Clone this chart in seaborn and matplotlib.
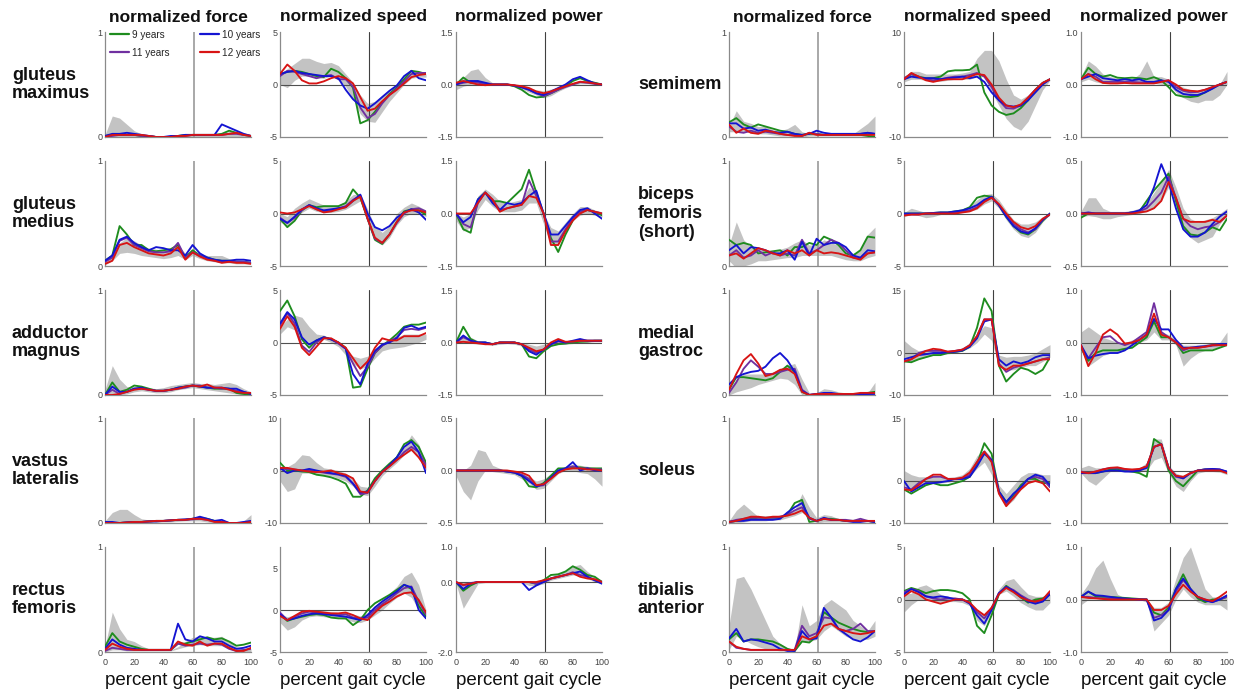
import matplotlib
matplotlib.use("Agg")
import matplotlib.pyplot as plt
from matplotlib.lines import Line2D
import numpy as np
import pandas as pd
import seaborn as sns

sns.set_theme(style="white")
plt.rcParams["font.family"] = ["Liberation Sans", "DejaVu Sans"]

# ---------------------------------------------------------------------------
# Gait-cycle sample points and age groups
# ---------------------------------------------------------------------------
PCT = list(range(0, 101, 5))
AGE_GROUPS = ["9 years", "10 years", "11 years", "12 years"]
DRAW_ORDER = ["9 years", "11 years", "10 years", "12 years"]
PALETTE = {"9 years": "#1e8c1e", "10 years": "#1414d2",
           "11 years": "#7030a0", "12 years": "#d81414"}
TOE_OFF = 61

COLUMN_TITLES = ["normalized force", "normalized speed", "normalized power"]
LEFT_MUSCLES = ["gluteus\nmaximus", "gluteus\nmedius", "adductor\nmagnus",
                "vastus\nlateralis", "rectus\nfemoris"]
RIGHT_MUSCLES = ["semimem", "biceps\nfemoris\n(short)", "medial\ngastroc",
                 "soleus", "tibialis\nanterior"]

# ---------------------------------------------------------------------------
# Group means per age (9/10/11/12 years) and adult reference band (lo/hi)
# ---------------------------------------------------------------------------
gmax_force = {
    "9 years":  [0.01,0.02,0.02,0.02,0.02,0.01,0.01,0.00,0.00,0.00,0.01,0.02,0.02,0.02,0.02,0.02,0.03,0.06,0.04,0.02,0.01],
    "10 years": [0.01,0.03,0.03,0.04,0.03,0.02,0.01,0.00,0.00,0.01,0.01,0.02,0.02,0.02,0.02,0.02,0.12,0.09,0.06,0.03,0.01],
    "11 years": [0.00,0.01,0.02,0.02,0.02,0.01,0.01,0.00,0.00,0.00,0.01,0.01,0.02,0.02,0.02,0.02,0.02,0.03,0.03,0.02,0.01],
    "12 years": [0.00,0.02,0.02,0.02,0.02,0.02,0.01,0.00,0.00,0.00,0.01,0.01,0.02,0.02,0.02,0.02,0.02,0.03,0.04,0.02,0.01],
    "lo": [0,0,0,0,0,0,0,0,0,0,0,0,0,0,0,0,0,0,0,0,0],
    "hi": [0.02,0.20,0.18,0.12,0.06,0.03,0.02,0.01,0.01,0.01,0.02,0.03,0.03,0.03,0.03,0.03,0.04,0.05,0.05,0.04,0.02],
}
gmax_speed = {
    "9 years":  [1.0,1.2,1.3,1.2,1.0,0.8,0.7,1.5,1.2,0.6,-0.3,-3.7,-3.4,-2.6,-1.7,-0.9,-0.3,0.5,1.3,1.2,1.0],
    "10 years": [1.0,1.2,1.3,1.1,1.0,0.9,0.8,0.8,0.6,-0.5,-1.4,-2.0,-2.3,-1.8,-1.2,-0.6,-0.1,0.8,1.3,0.6,0.4],
    "11 years": [0.8,1.3,1.2,1.0,0.8,0.6,0.8,0.9,0.5,0.5,-0.2,-2.2,-3.2,-2.8,-1.8,-1.0,-0.4,0.3,1.0,1.1,1.1],
    "12 years": [1.0,1.9,1.3,0.4,0.1,0.1,0.3,0.6,0.8,0.6,0.1,-1.2,-2.5,-2.3,-1.6,-1.0,-0.5,0.1,0.7,0.9,1.0],
    "lo": [0.0,-0.3,0.4,0.8,0.8,0.6,0.6,0.8,0.5,-0.2,-1.4,-2.8,-3.5,-3.6,-2.6,-1.6,-0.8,0.0,0.6,0.7,0.7],
    "hi": [1.0,1.5,2.0,2.5,2.5,2.2,2.0,2.1,1.8,1.0,0.2,-1.0,-1.8,-1.6,-1.0,-0.5,0.1,0.7,1.3,1.2,1.0],
}
gmax_power = {
    "9 years":  [0.0,0.2,0.05,0.08,0.0,0.0,0.0,0.0,-0.05,-0.15,-0.3,-0.37,-0.35,-0.25,-0.15,-0.05,0.1,0.18,0.1,0.05,0.0],
    "10 years": [0.0,0.08,0.1,0.1,0.05,0.0,0.0,0.0,-0.03,-0.08,-0.15,-0.25,-0.3,-0.2,-0.1,0.0,0.15,0.22,0.12,0.03,0.0],
    "11 years": [0.0,0.05,0.08,0.05,0.02,0.0,0.0,0.0,-0.03,-0.08,-0.15,-0.25,-0.33,-0.25,-0.15,-0.07,0.0,0.07,0.05,0.02,0.0],
    "12 years": [0.05,0.1,0.05,0.0,-0.02,0.0,0.0,0.0,-0.02,-0.05,-0.1,-0.2,-0.25,-0.2,-0.12,-0.05,0.02,0.08,0.06,0.03,0.0],
    "lo": [-0.15,-0.05,0.0,0.02,0.0,-0.02,-0.02,-0.02,-0.05,-0.12,-0.22,-0.3,-0.38,-0.32,-0.2,-0.1,-0.02,0.02,0.02,0.0,-0.02],
    "hi": [0.05,0.2,0.4,0.45,0.2,0.05,0.02,0.02,0.0,-0.05,-0.1,-0.15,-0.18,-0.13,-0.08,0.0,0.05,0.1,0.1,0.05,0.02],
}

gmed_force = {
    "9 years":  [0.05,0.10,0.38,0.30,0.20,0.20,0.15,0.14,0.15,0.16,0.20,0.08,0.15,0.10,0.08,0.06,0.05,0.05,0.04,0.04,0.03],
    "10 years": [0.05,0.10,0.25,0.28,0.22,0.18,0.15,0.18,0.17,0.15,0.15,0.10,0.20,0.12,0.08,0.06,0.05,0.05,0.06,0.06,0.05],
    "11 years": [0.04,0.08,0.24,0.27,0.20,0.17,0.14,0.13,0.13,0.14,0.22,0.08,0.13,0.10,0.07,0.05,0.04,0.04,0.04,0.04,0.03],
    "12 years": [0.02,0.05,0.20,0.22,0.18,0.15,0.12,0.11,0.10,0.12,0.18,0.06,0.13,0.09,0.06,0.05,0.03,0.04,0.03,0.03,0.02],
    "lo": [0.01,0.05,0.12,0.13,0.12,0.10,0.09,0.08,0.07,0.08,0.10,0.06,0.10,0.07,0.05,0.04,0.03,0.03,0.02,0.02,0.02],
    "hi": [0.05,0.10,0.22,0.27,0.24,0.20,0.17,0.16,0.15,0.17,0.20,0.12,0.14,0.12,0.10,0.10,0.10,0.07,0.06,0.05,0.04],
}
gmed_speed = {
    "9 years":  [-0.5,-1.3,-0.7,0.3,0.8,0.6,0.7,0.7,0.7,1.0,2.3,1.5,-0.5,-2.5,-2.9,-2.0,-0.8,0.2,0.4,0.3,-0.1],
    "10 years": [-0.5,-0.9,-0.3,0.4,0.8,0.5,0.3,0.4,0.5,0.6,1.2,1.8,0.0,-1.3,-1.6,-1.2,-0.4,0.1,0.4,0.1,-0.6],
    "11 years": [-0.4,-0.9,-0.4,0.3,0.8,0.4,0.2,0.3,0.5,0.7,1.3,1.7,-0.5,-2.4,-2.8,-2.0,-0.9,0.0,0.4,0.5,0.2],
    "12 years": [0.1,0.0,0.1,0.4,0.7,0.4,0.1,0.2,0.4,0.6,1.2,1.6,-0.5,-2.3,-2.8,-2.0,-0.8,0.1,0.3,0.3,0.1],
    "lo": [-0.8,-1.2,-0.6,0.1,0.5,0.2,0.1,0.1,0.2,0.4,0.8,1.2,-0.8,-2.6,-3.0,-2.3,-1.1,-0.3,0.0,0.0,-0.3],
    "hi": [0.0,-0.3,0.5,1.0,1.4,1.1,0.8,0.7,0.8,1.2,1.8,1.9,0.4,-1.2,-1.8,-1.2,0.0,0.6,1.0,0.7,0.3],
}
gmed_power = {
    "9 years":  [0.0,-0.45,-0.55,0.4,0.6,0.35,0.35,0.3,0.5,0.7,1.25,0.6,0.0,-0.7,-1.1,-0.6,-0.2,0.05,0.1,0.05,-0.05],
    "10 years": [0.0,-0.25,-0.1,0.4,0.6,0.3,0.1,0.3,0.25,0.3,0.5,0.65,0.0,-0.6,-0.6,-0.35,-0.1,0.1,0.15,0.0,-0.15],
    "11 years": [0.0,-0.3,-0.4,0.3,0.6,0.4,0.1,0.15,0.2,0.25,0.95,0.5,0.0,-0.8,-0.8,-0.45,-0.15,0.05,0.1,0.05,0.0],
    "12 years": [0.0,0.0,0.0,0.3,0.6,0.4,0.05,0.15,0.2,0.25,0.5,0.45,0.0,-0.9,-0.9,-0.5,-0.2,0.0,0.1,0.05,0.0],
    "lo": [-0.2,-0.5,-0.4,0.1,0.4,0.2,0.05,0.05,0.05,0.1,0.3,0.3,-0.3,-0.9,-0.9,-0.5,-0.2,-0.05,0.0,-0.05,-0.1],
    "hi": [0.0,-0.1,0.0,0.5,0.7,0.55,0.35,0.3,0.35,0.4,0.75,0.6,0.0,-0.4,-0.5,-0.25,0.0,0.2,0.2,0.1,0.05],
}

add_force = {
    "9 years":  [0.0,0.12,0.03,0.05,0.09,0.08,0.06,0.04,0.04,0.05,0.07,0.08,0.09,0.08,0.07,0.06,0.06,0.06,0.02,0.01,0.0],
    "10 years": [0.0,0.08,0.03,0.03,0.06,0.07,0.05,0.04,0.04,0.05,0.07,0.08,0.09,0.08,0.07,0.07,0.07,0.06,0.06,0.03,0.01],
    "11 years": [0.0,0.05,0.01,0.03,0.06,0.06,0.05,0.04,0.04,0.05,0.06,0.07,0.09,0.09,0.07,0.07,0.06,0.06,0.04,0.03,0.01],
    "12 years": [0.0,0.0,0.01,0.03,0.05,0.06,0.05,0.04,0.04,0.05,0.06,0.08,0.09,0.08,0.10,0.07,0.07,0.05,0.03,0.02,0.02],
    "lo": [0.0,0.0,0.0,0.01,0.03,0.04,0.03,0.02,0.02,0.03,0.05,0.06,0.07,0.06,0.05,0.04,0.03,0.02,0.01,0.0,0.0],
    "hi": [0.05,0.28,0.15,0.08,0.08,0.08,0.07,0.06,0.07,0.09,0.10,0.11,0.12,0.11,0.11,0.10,0.11,0.12,0.10,0.06,0.03],
}
add_speed = {
    "9 years":  [3.0,4.0,2.5,0.3,-0.5,0.2,0.5,0.3,0.0,-0.5,-4.3,-4.2,-2.5,-1.0,-0.3,0.2,0.8,1.5,1.7,1.7,1.9],
    "10 years": [1.8,2.9,2.2,0.5,-0.2,0.2,0.5,0.3,0.0,-0.6,-3.0,-4.0,-2.0,-0.8,-0.2,0.0,0.4,1.4,1.6,1.3,1.5],
    "11 years": [1.6,2.8,1.8,-0.3,-0.9,0.0,0.5,0.3,-0.1,-0.6,-2.0,-3.2,-2.3,-1.0,-0.3,0.1,0.5,1.2,1.3,1.2,1.4],
    "12 years": [1.3,2.5,1.5,-0.5,-1.2,-0.4,0.4,0.4,0.0,-0.5,-1.5,-2.5,-1.8,-0.5,0.4,0.2,0.2,0.6,0.6,0.6,0.9],
    "lo": [0.8,1.5,1.2,0.6,0.0,-0.1,0.3,0.0,-0.4,-1.2,-2.0,-2.5,-2.3,-1.5,-0.8,-0.6,-0.5,-0.4,-0.2,0.0,0.3],
    "hi": [1.5,2.2,2.6,2.4,1.5,0.8,0.7,0.4,0.0,-0.8,-1.3,-1.5,-1.3,-0.6,0.0,0.2,0.5,0.8,0.8,0.8,0.8],
}
add_power = {
    "9 years":  [0.0,0.45,0.1,0.0,0.0,-0.05,0.0,0.0,0.0,-0.05,-0.4,-0.45,-0.25,-0.1,-0.05,-0.03,0.0,0.02,0.03,0.05,0.05],
    "10 years": [0.0,0.2,0.05,0.0,0.0,-0.05,0.0,0.0,0.0,-0.05,-0.25,-0.35,-0.2,-0.05,0.05,0.0,0.05,0.1,0.05,0.05,0.05],
    "11 years": [0.0,0.15,0.05,0.0,0.0,-0.05,0.0,0.0,0.0,-0.05,-0.2,-0.3,-0.2,-0.05,0.03,0.0,0.03,0.05,0.05,0.05,0.05],
    "12 years": [0.0,0.02,0.0,-0.02,-0.05,-0.05,0.0,0.0,0.0,-0.05,-0.15,-0.25,-0.2,0.0,0.1,0.02,0.03,0.05,0.05,0.05,0.05],
    "lo": [-0.02,0.0,-0.02,-0.05,-0.05,-0.08,-0.05,-0.03,-0.05,-0.1,-0.25,-0.3,-0.25,-0.1,-0.05,-0.05,-0.03,0.0,0.0,0.02,0.02],
    "hi": [0.02,0.15,0.15,0.05,0.02,0.0,0.03,0.03,0.02,0.0,-0.05,-0.1,-0.05,0.02,0.08,0.05,0.05,0.1,0.1,0.1,0.1],
}

vas_force = {
    "9 years":  [0.0,0.0,0.0,0.005,0.01,0.01,0.015,0.02,0.02,0.025,0.03,0.03,0.04,0.05,0.04,0.02,0.01,0.0,0.0,0.0,0.01],
    "10 years": [0.01,0.01,0.0,0.005,0.01,0.01,0.015,0.015,0.02,0.025,0.03,0.035,0.04,0.06,0.04,0.02,0.03,0.0,0.0,0.01,0.02],
    "11 years": [0.0,0.0,0.0,0.005,0.01,0.01,0.015,0.02,0.02,0.025,0.03,0.03,0.035,0.04,0.03,0.015,0.01,0.0,0.0,0.0,0.01],
    "12 years": [0.0,0.0,0.0,0.005,0.01,0.01,0.015,0.02,0.02,0.025,0.03,0.03,0.04,0.04,0.03,0.01,0.01,0.0,0.0,0.0,0.01],
    "lo": [0.0,0.0,0.0,0.0,0.0,0.0,0.0,0.005,0.01,0.01,0.015,0.02,0.02,0.02,0.01,0.0,0.0,0.0,0.0,0.0,0.0],
    "hi": [0.02,0.10,0.13,0.13,0.08,0.04,0.03,0.03,0.03,0.035,0.04,0.04,0.05,0.06,0.05,0.03,0.02,0.01,0.01,0.02,0.08],
}
vas_speed = {
    "9 years":  [1.5,0.0,0.0,-0.2,-0.3,-0.8,-1.0,-1.3,-1.8,-2.5,-5.0,-5.0,-3.8,-1.5,0.0,1.3,2.5,5.0,5.8,4.5,1.5],
    "10 years": [0.5,-0.5,0.0,0.0,0.3,0.0,-0.3,-0.5,-0.7,-1.0,-2.5,-4.2,-4.0,-2.0,-0.3,1.0,2.5,4.5,5.5,3.5,-0.5],
    "11 years": [0.3,0.3,0.2,0.0,0.0,-0.2,-0.4,-0.6,-0.8,-1.2,-2.5,-4.5,-4.3,-2.0,-0.3,0.8,2.0,3.5,4.5,3.5,1.0],
    "12 years": [0.5,0.5,0.2,0.0,-0.2,-0.3,-0.2,0.0,-0.5,-0.8,-1.5,-4.0,-4.2,-2.0,-0.3,0.8,2.0,3.0,4.0,2.5,0.5],
    "lo": [-2.0,-4.0,-3.5,-0.5,-0.5,-0.8,-1.0,-1.0,-1.5,-2.0,-3.0,-4.5,-4.8,-3.0,-1.0,0.3,1.5,3.0,3.8,2.5,0.0],
    "hi": [0.5,0.7,1.5,3.0,2.8,1.5,0.5,0.3,0.0,-0.5,-1.5,-3.0,-3.2,-1.5,0.2,1.5,2.8,4.5,6.8,5.0,1.5],
}
vas_power = {
    "9 years":  [0.0,0.0,0.0,0.0,0.0,0.0,0.0,-0.01,-0.02,-0.05,-0.15,-0.16,-0.12,-0.05,0.02,0.02,0.03,0.03,0.02,0.02,0.02],
    "10 years": [0.0,0.0,0.0,0.0,0.0,0.0,0.0,-0.01,-0.02,-0.05,-0.1,-0.15,-0.13,-0.07,0.0,0.02,0.08,0.0,0.02,0.0,0.0],
    "11 years": [0.0,0.0,0.0,0.0,0.0,0.0,0.0,-0.01,-0.02,-0.04,-0.08,-0.15,-0.14,-0.07,-0.02,0.02,0.04,0.02,0.02,0.01,0.01],
    "12 years": [0.0,0.0,0.0,0.0,0.0,0.0,0.0,0.0,-0.01,-0.02,-0.05,-0.14,-0.13,-0.08,-0.02,0.01,0.02,0.02,0.01,0.01,0.0],
    "lo": [-0.05,-0.2,-0.28,-0.1,0.0,-0.01,-0.02,-0.03,-0.04,-0.08,-0.12,-0.18,-0.17,-0.1,-0.03,0.0,0.0,-0.02,-0.03,-0.08,-0.15],
    "hi": [0.0,0.0,0.05,0.2,0.18,0.05,0.02,0.01,0.0,-0.02,-0.06,-0.1,-0.08,-0.03,0.02,0.04,0.06,0.05,0.04,0.03,0.02],
}

rf_force = {
    "9 years":  [0.05,0.18,0.10,0.07,0.05,0.03,0.02,0.02,0.02,0.02,0.08,0.08,0.10,0.12,0.14,0.12,0.13,0.10,0.06,0.07,0.09],
    "10 years": [0.03,0.12,0.07,0.04,0.03,0.02,0.02,0.02,0.02,0.02,0.27,0.12,0.10,0.15,0.13,0.10,0.10,0.06,0.03,0.04,0.06],
    "11 years": [0.01,0.04,0.03,0.02,0.02,0.02,0.02,0.02,0.02,0.02,0.08,0.06,0.07,0.08,0.07,0.08,0.07,0.03,0.01,0.02,0.03],
    "12 years": [0.02,0.08,0.05,0.03,0.02,0.02,0.02,0.02,0.02,0.02,0.10,0.07,0.06,0.10,0.06,0.08,0.08,0.04,0.01,0.01,0.04],
    "lo": [0.0,0.02,0.02,0.01,0.01,0.01,0.01,0.01,0.01,0.01,0.03,0.05,0.06,0.07,0.06,0.06,0.06,0.03,0.0,0.0,0.0],
    "hi": [0.05,0.38,0.22,0.12,0.10,0.06,0.03,0.02,0.02,0.02,0.05,0.10,0.14,0.15,0.14,0.14,0.15,0.10,0.05,0.03,0.03],
}
rf_speed = {
    "9 years":  [-0.5,-1.3,-1.0,-0.8,-0.6,-0.5,-0.6,-0.9,-1.0,-1.0,-1.8,-1.2,0.0,0.8,1.3,1.8,2.4,3.0,2.5,0.5,-0.8],
    "10 years": [-0.5,-1.2,-1.0,-0.7,-0.5,-0.4,-0.5,-0.6,-0.7,-0.8,-1.0,-1.2,-0.6,0.3,1.0,1.6,2.2,3.0,2.7,0.0,-1.0],
    "11 years": [-0.3,-1.2,-0.8,-0.4,-0.2,-0.3,-0.4,-0.5,-0.6,-0.5,-0.9,-1.0,-0.9,0.0,0.7,1.3,2.0,2.6,2.8,1.0,-0.5],
    "12 years": [-0.7,-1.2,-0.7,-0.2,-0.1,-0.2,-0.3,-0.4,-0.4,-0.3,-0.6,-1.0,-1.2,-0.3,0.5,1.0,1.6,2.0,2.1,1.2,-0.3],
    "lo": [-1.5,-2.4,-2.0,-1.2,-0.8,-0.7,-0.8,-0.9,-1.0,-1.1,-1.4,-1.5,-1.2,-0.6,0.0,0.8,1.5,2.0,1.5,0.0,-0.8],
    "hi": [-0.5,-0.8,-0.6,-0.3,0.0,0.0,-0.1,-0.2,-0.3,-0.3,-0.5,-0.7,-0.3,0.5,1.3,2.0,2.8,4.0,4.5,3.0,0.0],
}
rf_power = {
    "9 years":  [0.0,-0.25,-0.1,0.0,0.0,0.0,0.0,0.0,0.0,0.0,0.0,-0.05,0.05,0.2,0.22,0.3,0.45,0.35,0.2,0.15,0.0],
    "10 years": [0.0,-0.2,-0.05,0.0,0.0,0.0,0.0,0.0,0.0,0.0,-0.23,-0.1,0.0,0.1,0.15,0.2,0.25,0.3,0.15,0.05,-0.05],
    "11 years": [0.0,-0.1,-0.03,0.0,0.0,0.0,0.0,0.0,0.0,0.0,0.0,-0.05,0.0,0.1,0.15,0.2,0.28,0.2,0.15,0.05,0.0],
    "12 years": [0.0,-0.08,-0.05,0.0,0.0,0.0,0.0,0.0,0.0,0.0,0.0,0.0,0.05,0.1,0.15,0.2,0.25,0.15,0.1,0.08,0.0],
    "lo": [-0.05,-0.75,-0.4,-0.05,-0.02,-0.02,-0.02,-0.02,-0.02,-0.02,-0.1,-0.1,-0.05,0.05,0.1,0.15,0.2,0.2,0.1,0.0,-0.05],
    "hi": [0.02,0.0,0.0,0.02,0.02,0.02,0.02,0.02,0.02,0.02,0.02,0.02,0.05,0.15,0.25,0.3,0.45,0.5,0.3,0.15,0.05],
}

semi_force = {
    "9 years":  [0.14,0.18,0.12,0.09,0.12,0.10,0.08,0.06,0.05,0.03,0.02,0.03,0.03,0.02,0.02,0.02,0.02,0.02,0.02,0.01,0.00],
    "10 years": [0.13,0.13,0.08,0.09,0.06,0.07,0.05,0.04,0.05,0.03,0.02,0.03,0.06,0.04,0.03,0.03,0.03,0.03,0.03,0.04,0.03],
    "11 years": [0.10,0.05,0.04,0.06,0.04,0.05,0.04,0.03,0.02,0.02,0.01,0.04,0.03,0.02,0.02,0.02,0.02,0.02,0.03,0.04,0.03],
    "12 years": [0.12,0.04,0.08,0.04,0.03,0.06,0.05,0.03,0.02,0.01,0.01,0.04,0.02,0.02,0.02,0.02,0.02,0.02,0.02,0.02,0.02],
    "lo": [0.05,0.05,0.05,0.04,0.03,0.03,0.02,0.01,0.01,0.01,0.0,0.01,0.01,0.01,0.01,0.01,0.01,0.01,0.01,0.01,0.01],
    "hi": [0.10,0.25,0.15,0.13,0.10,0.10,0.07,0.06,0.08,0.12,0.05,0.03,0.03,0.03,0.02,0.02,0.02,0.03,0.08,0.13,0.20],
}
semi_speed = {
    "9 years":  [1.0,2.0,1.5,1.2,1.2,1.5,2.5,2.7,2.7,2.8,3.8,-1.5,-4.0,-5.2,-5.8,-5.5,-4.5,-3.0,-1.0,0.3,1.0],
    "10 years": [1.0,1.5,1.3,1.2,1.2,1.0,1.2,1.3,1.5,1.2,1.5,0.5,-1.5,-3.0,-4.0,-4.2,-4.0,-3.0,-1.5,0.0,1.0],
    "11 years": [1.2,2.0,1.5,1.0,0.8,1.0,1.3,1.5,1.5,1.8,2.2,1.5,-0.5,-3.0,-4.5,-4.6,-4.0,-2.5,-1.0,0.3,1.0],
    "12 years": [1.0,2.2,1.5,0.8,0.5,0.8,1.0,1.0,1.0,1.5,2.0,1.8,0.0,-2.5,-4.0,-4.3,-3.8,-2.5,-1.0,0.3,1.0],
    "lo": [0.5,1.0,1.0,0.8,0.6,0.6,0.8,1.0,1.0,1.0,1.5,1.5,-1.5,-4.0,-6.5,-8.0,-8.7,-7.0,-4.0,-1.0,0.8],
    "hi": [1.5,2.5,2.5,2.0,2.0,2.0,2.0,2.0,2.2,2.5,5.0,6.5,6.5,4.5,1.0,-2.0,-2.8,-2.0,-0.5,0.5,1.0],
}
semi_power = {
    "9 years":  [0.10,0.32,0.20,0.15,0.18,0.13,0.12,0.13,0.12,0.10,0.14,0.08,-0.05,-0.2,-0.23,-0.24,-0.22,-0.15,-0.07,0.0,0.05],
    "10 years": [0.10,0.15,0.20,0.12,0.10,0.08,0.10,0.08,0.10,0.05,0.05,0.08,0.05,-0.1,-0.18,-0.2,-0.2,-0.15,-0.08,0.0,0.05],
    "11 years": [0.10,0.20,0.15,0.05,0.05,0.05,0.05,0.05,0.04,0.04,0.03,0.06,0.08,-0.05,-0.12,-0.15,-0.14,-0.10,-0.05,0.0,0.05],
    "12 years": [0.10,0.20,0.10,0.03,0.02,0.02,0.03,0.02,0.02,0.02,0.02,0.05,0.08,0.0,-0.1,-0.12,-0.13,-0.10,-0.05,0.0,0.05],
    "lo": [0.05,0.10,0.05,0.02,0.02,0.02,0.02,0.02,0.02,0.02,0.02,0.0,0.0,-0.15,-0.25,-0.32,-0.35,-0.30,-0.30,-0.20,0.0],
    "hi": [0.15,0.45,0.35,0.20,0.15,0.12,0.10,0.10,0.20,0.45,0.15,0.15,0.10,0.0,-0.05,-0.10,-0.12,-0.10,-0.05,0.0,0.25],
}

bf_force = {
    "9 years":  [0.25,0.20,0.22,0.20,0.12,0.13,0.14,0.15,0.10,0.18,0.18,0.22,0.20,0.28,0.25,0.20,0.12,0.10,0.15,0.28,0.27],
    "10 years": [0.15,0.20,0.12,0.18,0.17,0.15,0.12,0.12,0.15,0.06,0.23,0.10,0.26,0.20,0.22,0.22,0.18,0.10,0.08,0.15,0.14],
    "11 years": [0.10,0.15,0.08,0.10,0.15,0.10,0.13,0.10,0.12,0.10,0.25,0.12,0.15,0.20,0.25,0.22,0.15,0.08,0.07,0.12,0.13],
    "12 years": [0.10,0.12,0.07,0.12,0.17,0.15,0.12,0.10,0.15,0.12,0.15,0.10,0.15,0.12,0.13,0.12,0.10,0.08,0.06,0.12,0.13],
    "lo": [0.05,-0.02,0.0,0.02,0.05,0.05,0.06,0.07,0.08,0.08,0.10,0.10,0.10,0.10,0.10,0.08,0.06,0.05,0.05,0.08,0.10],
    "hi": [0.20,0.42,0.25,0.18,0.16,0.15,0.14,0.16,0.18,0.22,0.25,0.20,0.20,0.25,0.22,0.20,0.15,0.12,0.15,0.30,0.37],
}
bf_speed = {
    "9 years":  [0.0,0.0,0.0,0.0,0.05,0.1,0.1,0.2,0.3,0.6,1.5,1.7,1.6,0.8,-0.3,-1.2,-1.8,-2.0,-1.5,-0.7,0.0],
    "10 years": [0.0,0.0,0.0,0.0,0.05,0.1,0.1,0.2,0.3,0.5,0.8,1.3,1.6,0.8,-0.3,-1.2,-1.7,-1.9,-1.4,-0.6,0.0],
    "11 years": [-0.1,-0.1,-0.1,0.0,0.0,0.05,0.05,0.1,0.2,0.3,0.6,1.2,1.5,0.8,-0.2,-1.0,-1.5,-1.8,-1.5,-0.6,-0.1],
    "12 years": [-0.2,-0.1,-0.1,0.0,0.0,0.0,0.0,0.0,0.1,0.2,0.5,1.1,1.5,0.9,0.0,-0.8,-1.3,-1.5,-1.2,-0.5,-0.1],
    "lo": [-0.3,-0.1,-0.2,-0.4,-0.3,-0.1,-0.05,0.0,0.1,0.2,0.4,0.9,1.2,0.5,-0.6,-1.5,-2.1,-2.3,-1.8,-0.8,-0.1],
    "hi": [0.1,0.5,0.3,0.1,0.05,0.1,0.15,0.25,0.4,0.7,1.3,1.8,1.9,1.3,0.3,-0.6,-1.0,-1.0,-0.8,-0.3,0.1],
}
bf_power = {
    "9 years":  [-0.04,0.0,0.0,0.0,0.0,0.0,0.0,0.01,0.02,0.12,0.22,0.30,0.38,0.12,-0.12,-0.20,-0.21,-0.18,-0.13,-0.16,-0.05],
    "10 years": [0.0,0.01,0.0,0.0,0.0,0.0,0.0,0.01,0.03,0.08,0.25,0.47,0.30,0.05,-0.15,-0.22,-0.22,-0.18,-0.10,-0.03,0.02],
    "11 years": [0.0,0.0,0.0,0.0,0.0,0.0,0.0,0.01,0.02,0.05,0.12,0.20,0.35,0.15,-0.05,-0.12,-0.15,-0.13,-0.12,-0.08,-0.02],
    "12 years": [0.0,0.0,0.0,0.0,0.0,0.0,0.0,0.0,0.01,0.02,0.05,0.12,0.30,0.15,-0.05,-0.08,-0.08,-0.08,-0.06,-0.08,-0.02],
    "lo": [-0.03,-0.02,-0.03,-0.05,-0.05,-0.03,-0.02,-0.01,0.0,0.02,0.05,0.12,0.25,0.05,-0.15,-0.23,-0.28,-0.25,-0.22,-0.10,-0.02],
    "hi": [0.02,0.15,0.15,0.05,0.02,0.02,0.02,0.03,0.05,0.10,0.20,0.30,0.42,0.25,0.05,-0.05,-0.08,-0.06,-0.04,0.0,0.05],
}

mg_force = {
    "9 years":  [0.05,0.17,0.17,0.16,0.15,0.14,0.16,0.22,0.28,0.22,0.03,0.0,0.0,0.01,0.01,0.01,0.01,0.01,0.01,0.02,0.03],
    "10 years": [0.10,0.17,0.20,0.22,0.23,0.27,0.35,0.40,0.33,0.22,0.04,0.0,0.01,0.02,0.02,0.01,0.01,0.01,0.01,0.01,0.01],
    "11 years": [0.02,0.12,0.25,0.33,0.27,0.20,0.20,0.22,0.24,0.25,0.05,0.0,0.01,0.01,0.01,0.01,0.01,0.01,0.01,0.01,0.02],
    "12 years": [0.05,0.20,0.33,0.39,0.30,0.18,0.20,0.24,0.25,0.20,0.03,0.0,0.01,0.01,0.01,0.01,0.01,0.01,0.02,0.02,0.02],
    "lo": [0.0,0.03,0.05,0.07,0.10,0.12,0.14,0.16,0.15,0.10,0.0,0.0,0.0,0.0,0.0,0.0,0.0,0.0,0.0,0.0,0.0],
    "hi": [0.05,0.15,0.20,0.20,0.20,0.20,0.22,0.25,0.28,0.30,0.15,0.02,0.02,0.06,0.05,0.03,0.02,0.02,0.02,0.02,0.12],
}
mg_speed = {
    "9 years":  [-2.0,-2.2,-1.5,-1.0,-0.5,-0.5,0.0,0.3,0.5,1.5,6.0,13.0,10.0,-3.0,-6.8,-5.0,-3.5,-4.0,-5.0,-4.0,-1.0],
    "10 years": [-1.5,-1.0,-0.5,-0.3,0.0,0.0,0.2,0.3,0.6,1.5,3.5,7.5,8.0,-1.5,-3.0,-2.0,-2.5,-2.0,-1.0,-0.5,-0.5],
    "11 years": [-2.0,-1.5,0.0,0.5,0.5,0.5,0.3,0.5,0.8,1.8,4.0,8.0,8.0,-2.5,-4.5,-3.5,-3.0,-2.5,-2.0,-1.5,-1.0],
    "12 years": [-2.0,-1.5,-0.5,0.5,1.0,0.8,0.3,0.5,0.8,1.8,4.0,8.0,8.0,-3.0,-4.0,-3.0,-3.0,-2.5,-2.0,-1.5,-1.5],
    "lo": [-1.0,-2.0,-1.5,-1.0,-0.5,-0.3,-0.2,0.0,0.5,1.2,2.5,4.5,3.0,-3.0,-4.0,-4.0,-3.5,-3.0,-3.0,-2.0,-1.0],
    "hi": [3.0,1.5,0.5,0.5,0.8,0.5,0.5,0.8,1.2,2.5,4.5,6.5,6.0,-0.5,-1.0,-0.8,-0.8,-0.5,0.0,1.0,2.0],
}
mg_power = {
    "9 years":  [-0.1,-0.35,-0.2,-0.15,-0.15,-0.15,-0.12,-0.1,0.0,0.1,0.4,0.1,0.1,0.0,-0.2,-0.15,-0.15,-0.15,-0.15,-0.1,-0.05],
    "10 years": [-0.05,-0.3,-0.25,-0.22,-0.2,-0.2,-0.15,-0.05,0.05,0.15,0.45,0.25,0.25,0.05,-0.1,-0.1,-0.08,-0.07,-0.05,-0.03,-0.03],
    "11 years": [-0.1,-0.3,-0.1,0.1,0.12,0.0,-0.05,0.0,0.1,0.2,0.75,0.2,0.1,0.0,-0.15,-0.1,-0.1,-0.08,-0.06,-0.05,-0.05],
    "12 years": [-0.05,-0.45,-0.2,0.15,0.25,0.15,-0.02,0.0,0.05,0.15,0.55,0.15,0.1,0.0,-0.12,-0.1,-0.1,-0.08,-0.05,-0.05,-0.05],
    "lo": [-0.15,-0.45,-0.35,-0.25,-0.2,-0.2,-0.15,-0.05,0.0,0.05,0.2,0.05,0.05,-0.05,-0.45,-0.3,-0.2,-0.15,-0.12,-0.08,-0.05],
    "hi": [0.2,0.3,0.2,0.1,0.05,0.0,0.0,0.05,0.1,0.2,0.4,0.2,0.15,0.05,-0.05,-0.05,-0.05,-0.03,0.0,0.0,0.2],
}

sol_force = {
    "9 years":  [0.01,0.02,0.03,0.04,0.05,0.05,0.05,0.05,0.08,0.19,0.22,0.01,0.02,0.04,0.04,0.03,0.02,0.02,0.02,0.02,0.01],
    "10 years": [0.01,0.02,0.02,0.03,0.03,0.03,0.03,0.04,0.10,0.15,0.19,0.05,0.02,0.05,0.03,0.03,0.02,0.01,0.01,0.02,0.01],
    "11 years": [0.01,0.03,0.04,0.05,0.05,0.05,0.05,0.06,0.08,0.12,0.15,0.04,0.02,0.04,0.03,0.03,0.03,0.02,0.04,0.02,0.01],
    "12 years": [0.01,0.02,0.04,0.06,0.06,0.05,0.06,0.06,0.07,0.09,0.12,0.05,0.02,0.04,0.03,0.03,0.02,0.02,0.02,0.02,0.02],
    "lo": [0.0,0.0,0.01,0.02,0.02,0.02,0.03,0.03,0.05,0.07,0.10,0.05,0.0,0.01,0.01,0.01,0.01,0.01,0.01,0.01,0.01],
    "hi": [0.02,0.12,0.18,0.12,0.06,0.06,0.06,0.06,0.08,0.12,0.28,0.15,0.05,0.08,0.07,0.04,0.03,0.02,0.02,0.02,0.02],
}
sol_speed = {
    "9 years":  [-2.0,-3.0,-2.0,-1.0,-0.5,-1.0,-1.0,-0.5,0.0,1.0,4.0,9.0,6.5,-2.5,-5.0,-3.5,-1.0,0.5,0.5,-0.5,-0.5],
    "10 years": [0.0,-2.5,-1.5,-0.5,-0.5,-0.3,0.0,0.5,0.5,1.0,3.5,6.5,5.0,-2.5,-5.0,-3.0,-1.5,0.5,1.5,1.0,-1.0],
    "11 years": [-1.5,-2.0,-0.5,0.5,1.0,1.0,0.5,0.5,0.5,1.5,4.5,7.0,5.0,-2.5,-5.5,-4.0,-1.5,0.5,1.0,0.5,-1.5],
    "12 years": [-2.0,-2.2,-1.0,0.5,1.5,1.5,0.5,0.5,0.8,2.0,4.5,7.0,4.5,-3.0,-6.0,-4.0,-2.0,-0.5,0.0,-0.5,-2.5],
    "lo": [-1.0,-2.0,-1.5,-1.0,-0.5,-0.5,-0.3,0.0,0.3,1.0,3.0,4.5,1.5,-3.5,-6.0,-4.5,-2.0,-0.5,0.0,-0.5,-0.5],
    "hi": [2.5,1.5,1.0,1.0,1.0,0.8,0.8,1.0,1.5,3.0,6.0,7.5,5.5,-1.0,-3.0,-1.0,1.0,2.0,2.0,1.5,1.5],
}
sol_power = {
    "9 years":  [-0.03,-0.05,-0.05,-0.02,0.02,0.03,0.0,-0.02,-0.05,-0.12,0.60,0.50,0.0,-0.2,-0.3,-0.15,0.0,0.02,0.02,0.0,-0.03],
    "10 years": [-0.05,-0.05,-0.05,-0.02,0.0,0.0,-0.02,-0.02,0.0,0.05,0.45,0.50,0.05,-0.1,-0.15,-0.05,0.0,0.02,0.03,0.02,-0.02],
    "11 years": [-0.02,-0.05,-0.02,0.02,0.05,0.05,0.02,0.0,0.02,0.08,0.45,0.50,0.05,-0.12,-0.15,-0.05,0.0,0.02,0.03,0.02,-0.03],
    "12 years": [-0.03,-0.05,-0.02,0.02,0.05,0.06,0.03,0.02,0.03,0.08,0.45,0.50,0.05,-0.1,-0.12,-0.05,0.0,0.0,0.0,0.0,-0.05],
    "lo": [-0.05,-0.20,-0.28,-0.15,-0.02,0.0,-0.02,-0.03,-0.03,0.0,0.20,0.25,-0.05,-0.30,-0.40,-0.20,-0.05,-0.02,-0.02,-0.03,-0.08],
    "hi": [0.05,0.10,0.05,0.05,0.05,0.05,0.03,0.03,0.05,0.15,0.60,0.60,0.10,-0.05,-0.10,0.0,0.03,0.05,0.05,0.03,0.0],
}

ta_force = {
    "9 years":  [0.12,0.18,0.10,0.12,0.12,0.11,0.10,0.07,0.03,0.01,0.10,0.09,0.15,0.38,0.33,0.28,0.25,0.22,0.20,0.19,0.20],
    "10 years": [0.13,0.22,0.10,0.12,0.11,0.09,0.07,0.03,0.01,0.01,0.20,0.12,0.13,0.42,0.33,0.22,0.17,0.12,0.10,0.14,0.20],
    "11 years": [0.10,0.04,0.03,0.02,0.02,0.02,0.02,0.02,0.02,0.02,0.25,0.15,0.18,0.33,0.32,0.22,0.20,0.22,0.27,0.20,0.20],
    "12 years": [0.10,0.05,0.03,0.02,0.02,0.02,0.02,0.02,0.02,0.02,0.15,0.12,0.15,0.25,0.27,0.22,0.20,0.18,0.17,0.18,0.20],
    "lo": [0.02,0.15,0.12,0.08,0.05,0.03,0.02,0.01,0.01,0.01,0.10,0.10,0.12,0.20,0.25,0.20,0.15,0.12,0.12,0.12,0.15],
    "hi": [0.25,0.70,0.72,0.60,0.45,0.30,0.15,0.08,0.04,0.02,0.45,0.25,0.30,0.45,0.50,0.45,0.40,0.30,0.25,0.20,0.30],
}
ta_speed = {
    "9 years":  [0.8,1.1,0.9,0.6,0.8,0.9,0.9,0.8,0.6,0.0,-2.5,-3.2,-1.5,0.5,1.3,0.8,0.2,-0.3,0.0,0.1,0.5],
    "10 years": [0.5,1.0,0.7,0.3,0.2,0.3,0.2,0.0,0.0,-0.4,-1.5,-2.3,-1.0,0.6,1.2,0.8,0.3,-0.2,-0.4,-0.2,0.5],
    "11 years": [0.7,1.0,0.8,0.3,0.1,0.0,0.1,0.1,0.0,-0.3,-1.2,-1.8,-0.8,0.6,1.2,0.9,0.4,0.0,-0.3,-0.1,0.6],
    "12 years": [0.3,0.8,0.5,0.0,-0.2,-0.4,-0.2,0.0,0.0,-0.3,-1.0,-1.5,-0.8,0.5,1.1,0.7,0.2,-0.1,-0.2,0.0,0.8],
    "lo": [-1.2,-0.5,0.0,0.0,-0.2,-0.3,-0.2,-0.2,-0.3,-0.6,-2.0,-2.5,-1.2,0.5,0.8,0.3,-0.3,-0.7,-1.0,-1.0,-0.3],
    "hi": [0.5,0.6,1.2,1.4,1.0,0.5,0.3,0.2,0.1,-0.3,-1.0,-1.5,-0.5,1.0,1.8,2.0,1.2,0.5,0.3,0.3,0.5],
}
ta_power = {
    "9 years":  [0.05,0.15,0.06,0.05,0.05,0.04,0.03,0.02,0.01,0.0,-0.25,-0.3,-0.15,0.2,0.48,0.2,0.02,-0.05,0.0,0.0,0.05],
    "10 years": [0.05,0.15,0.08,0.07,0.05,0.03,0.02,0.01,0.0,0.0,-0.4,-0.35,-0.2,0.2,0.4,0.2,0.05,-0.02,-0.05,0.0,0.08],
    "11 years": [0.05,0.05,0.03,0.02,0.02,0.01,0.01,0.01,0.0,0.0,-0.35,-0.3,-0.2,0.15,0.37,0.2,0.05,0.0,-0.05,0.0,0.05],
    "12 years": [0.05,0.03,0.02,0.01,0.0,0.0,0.0,0.0,0.0,0.0,-0.2,-0.2,-0.12,0.1,0.28,0.15,0.05,0.0,-0.03,0.05,0.15],
    "lo": [-0.10,0.0,0.02,0.02,0.0,0.0,0.0,0.0,0.0,-0.05,-0.60,-0.45,-0.30,0.0,0.20,0.05,-0.05,-0.10,-0.10,-0.10,-0.20],
    "hi": [0.10,0.30,0.60,0.75,0.40,0.10,0.03,0.02,0.01,0.0,-0.15,-0.15,-0.05,0.40,0.80,1.00,0.60,0.20,0.05,0.05,0.10],
}

LEFT_PANELS = [
    [gmax_force, gmax_speed, gmax_power],
    [gmed_force, gmed_speed, gmed_power],
    [add_force, add_speed, add_power],
    [vas_force, vas_speed, vas_power],
    [rf_force, rf_speed, rf_power],
]
RIGHT_PANELS = [
    [semi_force, semi_speed, semi_power],
    [bf_force, bf_speed, bf_power],
    [mg_force, mg_speed, mg_power],
    [sol_force, sol_speed, sol_power],
    [ta_force, ta_speed, ta_power],
]

# y-axis scale per panel: (ymin, ymax, tick step, labelled ticks, label format)
FORCE_AX = (0, 1, 0.5, [0, 1], "{:.0f}")
LEFT_AXES = [
    [FORCE_AX, (-5, 5, 2.5, [-5, 0, 5], "{:.0f}"), (-1.5, 1.5, 0.75, [-1.5, 0, 1.5], "{:.1f}")],
    [FORCE_AX, (-5, 5, 2.5, [-5, 0, 5], "{:.0f}"), (-1.5, 1.5, 0.75, [-1.5, 0, 1.5], "{:.1f}")],
    [FORCE_AX, (-5, 5, 2.5, [-5, 0, 5], "{:.0f}"), (-1.5, 1.5, 0.75, [-1.5, 0, 1.5], "{:.1f}")],
    [FORCE_AX, (-10, 10, 5, [-10, 0, 10], "{:.0f}"), (-0.5, 0.5, 0.25, [-0.5, 0, 0.5], "{:.1f}")],
    [FORCE_AX, (-5, 7.5, 2.5, [-5, 0, 5], "{:.0f}"), (-2, 1, 0.5, [-2, 0, 1], "{:.1f}")],
]
RIGHT_AXES = [
    [FORCE_AX, (-10, 10, 5, [-10, 0, 10], "{:.0f}"), (-1, 1, 0.5, [-1, 0, 1], "{:.1f}")],
    [FORCE_AX, (-5, 5, 2.5, [-5, 0, 5], "{:.0f}"), (-0.5, 0.5, 0.25, [-0.5, 0, 0.5], "{:.1f}")],
    [FORCE_AX, (-10, 15, 5, [-10, 0, 15], "{:.0f}"), (-1, 1, 0.5, [-1, 0, 1], "{:.1f}")],
    [FORCE_AX, (-10, 15, 5, [-10, 0, 15], "{:.0f}"), (-1, 1, 0.5, [-1, 0, 1], "{:.1f}")],
    [FORCE_AX, (-5, 5, 2.5, [-5, 0, 5], "{:.0f}"), (-1, 1, 0.5, [-1, 0, 1], "{:.1f}")],
]

# ---------------------------------------------------------------------------
# Figure layout (pixel geometry of a 1242 x 692 canvas)
# ---------------------------------------------------------------------------
W, H = 1242, 692
LEFT_COL_X = [105, 280, 456]
RIGHT_COL_X = [729, 904, 1081]
AX_W = 146
ROW_TOP = [32, 161, 290, 418, 547]
AX_H = 105

fig = plt.figure(figsize=(W / 100, H / 100), dpi=100)
fig.patch.set_facecolor("white")

SPINE_C = "#8a8a8a"


def draw_panel(ax, data, axis_spec, kind, bottom_row):
    ymin, ymax, step, labelled, fmt = axis_spec
    ax.fill_between(PCT, data["lo"], data["hi"], color="#c3c3c3", lw=0, zorder=1)
    df = pd.DataFrame({
        "pct": PCT * len(DRAW_ORDER),
        "value": sum([data[a] for a in DRAW_ORDER], []),
        "age": np.repeat(DRAW_ORDER, len(PCT)),
    })
    sns.lineplot(data=df, x="pct", y="value", hue="age", hue_order=DRAW_ORDER,
                 palette=PALETTE, ax=ax, legend=False, errorbar=None,
                 linewidth=1.35, zorder=3)
    if kind == "force":
        ax.axvline(TOE_OFF, color="#9a9a9a", lw=1.2, zorder=2)
    else:
        ax.axvline(TOE_OFF, color="#404040", lw=0.8, zorder=2)
        ax.axhline(0, color="#505050", lw=0.8, zorder=2)

    ax.set_xlim(0, 100)
    ax.set_ylim(ymin, ymax)
    ax.set_facecolor("white")
    for side in ("top", "right"):
        ax.spines[side].set_visible(False)
    for side in ("left", "bottom"):
        ax.spines[side].set_color(SPINE_C)
        ax.spines[side].set_linewidth(0.9)

    ticks = np.arange(ymin, ymax + step / 2, step)
    ax.set_yticks(ticks)
    ax.set_yticklabels([fmt.format(t) if any(np.isclose(t, labelled)) else ""
                        for t in ticks])
    ax.set_xticks(range(0, 101, 20))
    ax.tick_params(direction="in", length=3, width=0.7, color=SPINE_C,
                   labelsize=6.5, labelcolor="#444444", pad=2)
    ax.tick_params(axis="x", pad=4)
    ax.set_ylabel("")
    if bottom_row:
        ax.set_xlabel("percent gait cycle", fontsize=13.5, labelpad=4,
                      color="#111111")
    else:
        ax.set_xticklabels([])
        ax.set_xlabel("")


def add_group(col_x, muscles, panels, axes_specs, label_x):
    axes = []
    for r, top in enumerate(ROW_TOP):
        for c, x0 in enumerate(col_x):
            ax = fig.add_axes([x0 / W, 1 - (top + AX_H) / H, AX_W / W, AX_H / H])
            kind = ["force", "speed", "power"][c]
            draw_panel(ax, panels[r][c], axes_specs[r][c], kind, r == len(ROW_TOP) - 1)
            axes.append(ax)
        fig.text(label_x / W, 1 - (top + AX_H / 2) / H, muscles[r],
                 fontsize=13, fontweight="bold", ha="left", va="center",
                 linespacing=1.15, color="#111111")
    for c, x0 in enumerate(col_x):
        fig.text((x0 + AX_W / 2) / W, 1 - 17 / H, COLUMN_TITLES[c],
                 fontsize=12.5, fontweight="bold", ha="center", va="center",
                 color="#111111")
    return axes


left_axes = add_group(LEFT_COL_X, LEFT_MUSCLES, LEFT_PANELS, LEFT_AXES, 12)
add_group(RIGHT_COL_X, RIGHT_MUSCLES, RIGHT_PANELS, RIGHT_AXES, 638)

# Age legend inside the first force panel
handles = [Line2D([0], [0], color=PALETTE[a], lw=1.6) for a in
           ["9 years", "11 years", "10 years", "12 years"]]
labels = ["9 years", "11 years", "10 years", "12 years"]
left_axes[0].legend(handles, labels, ncol=2, loc="upper left",
                    bbox_to_anchor=(0.02, 1.04), frameon=False, fontsize=7.2,
                    handlelength=1.9, handletextpad=0.35, columnspacing=3.0,
                    labelspacing=0.8, borderaxespad=0, borderpad=0.2)

fig.savefig("out.png", dpi=100, facecolor="white")
